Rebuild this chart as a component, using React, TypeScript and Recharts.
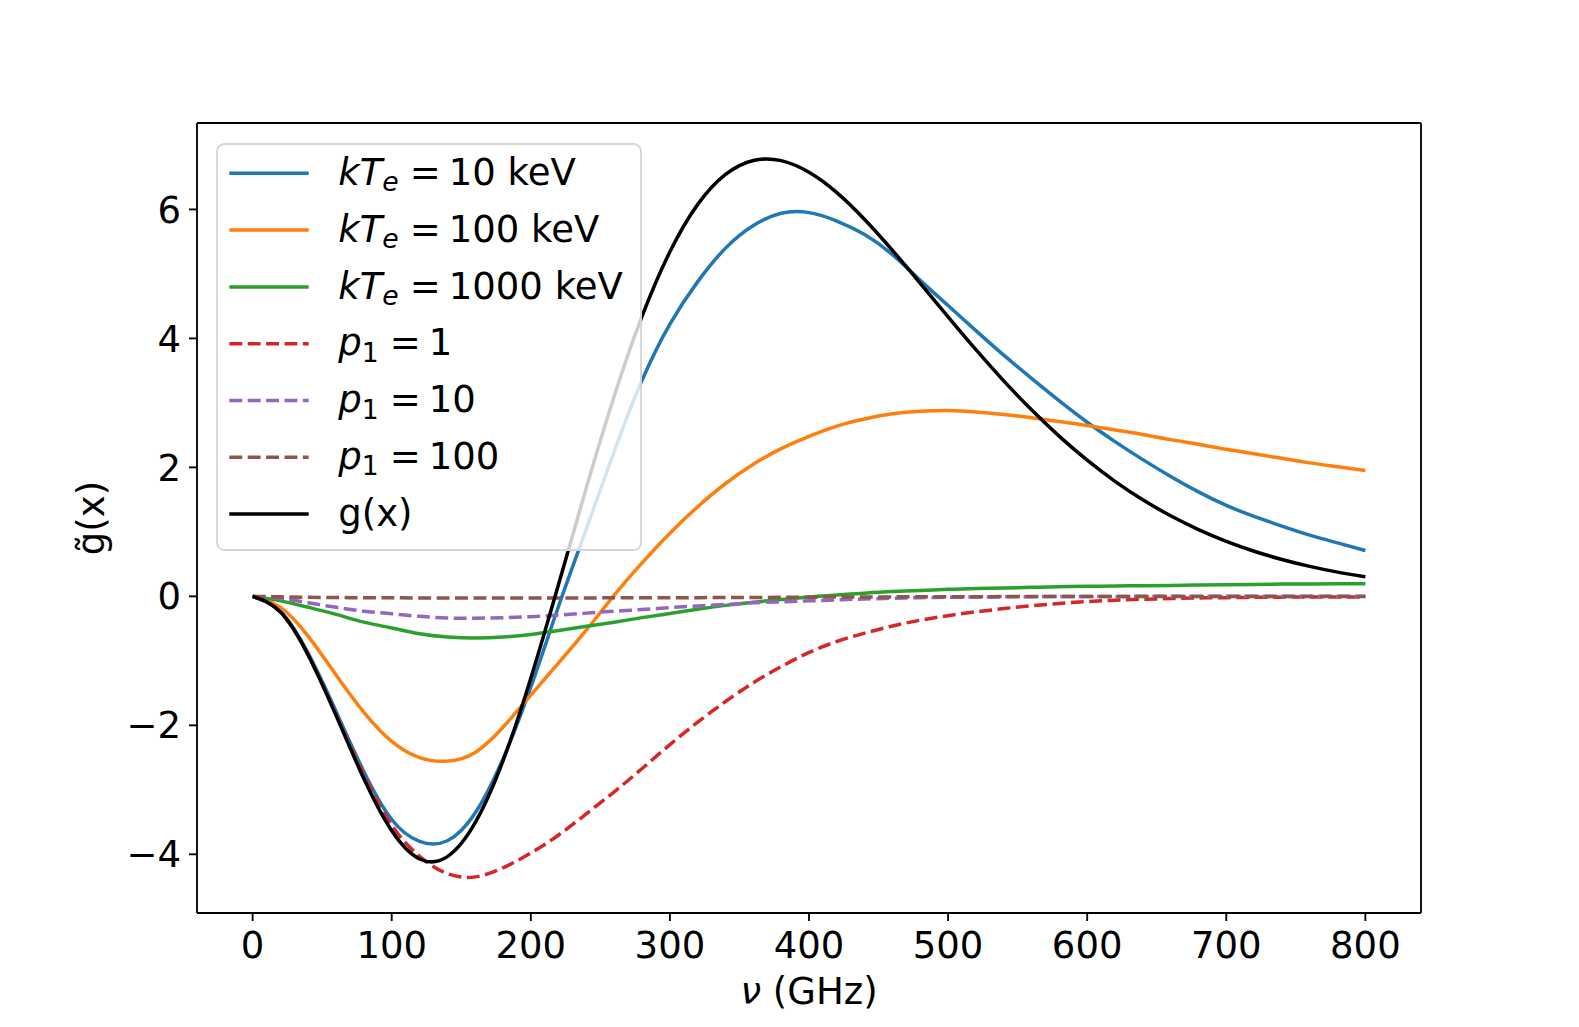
import React from 'react';
import { LineChart, Line, XAxis, YAxis, Legend, Label, ReferenceLine } from 'recharts';

// ---- data ----
const nu = [0, 20, 40, 60, 80, 100, 120, 140, 160, 180, 200, 220, 240, 260, 280, 300, 320, 340, 360, 380, 400,
  420, 440, 460, 480, 500, 520, 540, 560, 580, 600, 620, 640, 660, 680, 700, 720, 740, 760, 780, 800];

const kT10 = [0, -0.235, -0.885, -1.785, -2.72, -3.46, -3.8, -3.79, -3.36, -2.52, -1.41, -0.15, 1.05, 2.25, 3.35, 4.22,
  4.88, 5.4, 5.75, 5.94, 5.95, 5.82, 5.61, 5.3, 4.9, 4.51, 4.12, 3.74, 3.38, 3.03, 2.7, 2.4, 2.12, 1.86, 1.62,
  1.41, 1.24, 1.09, 0.95, 0.83, 0.71];

const kT100 = [0, -0.17, -0.62, -1.22, -1.8, -2.25, -2.5, -2.555, -2.42, -2.03, -1.53, -1.03, -0.52, 0.02, 0.52, 0.98,
  1.39, 1.75, 2.05, 2.29, 2.48, 2.64, 2.75, 2.83, 2.87, 2.88, 2.86, 2.82, 2.77, 2.71, 2.65, 2.58, 2.51, 2.43, 2.36,
  2.28, 2.21, 2.14, 2.07, 2.01, 1.95];

const kT1000 = [0, -0.07, -0.17, -0.28, -0.4, -0.49, -0.58, -0.63, -0.645, -0.63, -0.59, -0.53, -0.465, -0.4, -0.33,
  -0.265, -0.2, -0.14, -0.09, -0.05, -0.01, 0.02, 0.05, 0.075, 0.09, 0.11, 0.12, 0.13, 0.14, 0.15, 0.155, 0.16,
  0.165, 0.17, 0.175, 0.18, 0.185, 0.19, 0.192, 0.195, 0.197];

const p1_1 = [0, -0.245, -0.915, -1.83, -2.77, -3.55, -4.03, -4.3, -4.35, -4.21, -3.98, -3.7, -3.37, -3.03, -2.67,
  -2.3, -1.95, -1.63, -1.34, -1.09, -0.87, -0.7, -0.57, -0.46, -0.37, -0.3, -0.24, -0.19, -0.145, -0.11, -0.08,
  -0.06, -0.045, -0.035, -0.025, -0.02, -0.015, -0.012, -0.01, -0.01, -0.01];

const p1_10 = [0, -0.03, -0.1, -0.17, -0.23, -0.27, -0.31, -0.335, -0.34, -0.33, -0.315, -0.29, -0.26, -0.23, -0.205,
  -0.175, -0.15, -0.125, -0.1, -0.085, -0.07, -0.055, -0.04, -0.03, -0.02, -0.015, -0.01, -0.008, -0.005, -0.003,
  -0.002, -0.001, 0, 0, 0, 0, 0, 0, 0, 0, 0];

const p1_100 = [0, -0.008, -0.014, -0.018, -0.021, -0.023, -0.024, -0.025, -0.025, -0.025, -0.025, -0.024, -0.024,
  -0.023, -0.022, -0.021, -0.02, -0.018, -0.017, -0.015, -0.013, -0.011, -0.01, -0.008, -0.007, -0.006, -0.005,
  -0.004, -0.003, -0.003, -0.002, -0.002, -0.002, -0.001, -0.001, -0.001, -0.001, -0.001, -0.001, -0.001, -0.001];

const gx = [0, -0.243, -0.914, -1.85, -2.83, -3.635, -4.072, -4.036, -3.51, -2.551, -1.271, 0.19, 1.69, 3.107, 4.344,
  5.343, 6.078, 6.543, 6.759, 6.756, 6.575, 6.26, 5.844, 5.365, 4.855, 4.334, 3.825, 3.342, 2.892, 2.481, 2.112,
  1.784, 1.497, 1.249, 1.035, 0.853, 0.7, 0.572, 0.465, 0.376, 0.303];

const xTicks = [0, 100, 200, 300, 400, 500, 600, 700, 800];
const yTicks = [-4, -2, 0, 2, 4, 6];
const xDomain = [-40, 840];
const yDomain = [-4.91, 7.34];

const rows = nu.map((v, i) => ({
  nu: v,
  kT10: kT10[i],
  kT100: kT100[i],
  kT1000: kT1000[i],
  p1_1: p1_1[i],
  p1_10: p1_10[i],
  p1_100: p1_100[i],
  gx: gx[i],
}));

// ---- styling ----
const FONT = '"DejaVu Sans", sans-serif';
const FS = 37;
const LW = 3.5;
const DASH = '12.9 5.5';
const SUB = FS * 0.72;

const series = [
  { key: 'kT10', color: '#1f77b4', dash: undefined },
  { key: 'kT100', color: '#ff7f0e', dash: undefined },
  { key: 'kT1000', color: '#2ca02c', dash: undefined },
  { key: 'p1_1', color: '#d62728', dash: DASH },
  { key: 'p1_10', color: '#9467bd', dash: DASH },
  { key: 'p1_100', color: '#8c564b', dash: DASH },
  { key: 'gx', color: '#000000', dash: undefined },
];

const kTLabel = (n: string) => (
  <>
    <tspan fontStyle="italic">kT</tspan>
    <tspan fontStyle="italic" fontSize={SUB} dy={6.5}>e</tspan>
    <tspan dy={-6.5} dx={11}>=</tspan>
    <tspan dx={8}>{n + ' keV'}</tspan>
  </>
);
const pLabel = (n: string) => (
  <>
    <tspan fontStyle="italic">p</tspan>
    <tspan fontSize={SUB} dy={6.5}>1</tspan>
    <tspan dy={-6.5} dx={11}>=</tspan>
    <tspan dx={8}>{n}</tspan>
  </>
);

const labels: Record<string, React.ReactNode> = {
  kT10: kTLabel('10'),
  kT100: kTLabel('100'),
  kT1000: kTLabel('1000'),
  p1_1: pLabel('1'),
  p1_10: pLabel('10'),
  p1_100: pLabel('100'),
  gx: <tspan>g(x)</tspan>,
};

const LegendBox = () => (
  <svg width={426} height={408} style={{ display: 'block' }}>
    <rect x={1} y={1} width={424} height={406} rx={7.5} ry={7.5}
      fill="rgba(255,255,255,0.8)" stroke="#d6d6d6" strokeWidth={1.9} />
    {series.map((s, i) => {
      const cy = 30.3 + 56.8 * i;
      return (
        <g key={s.key}>
          <line x1={13.3} x2={92.7} y1={cy} y2={cy} stroke={s.color} strokeWidth={LW}
            strokeDasharray={s.dash} />
          <text x={122.3} y={cy + 11.6} fontFamily={FONT} fontSize={FS} fill="#000">
            {labels[s.key]}
          </text>
        </g>
      );
    })}
  </svg>
);

const XLabel = (props: any) => {
  const vb = props.viewBox || { x: 197, y: 913, width: 1224, height: 60 };
  const cx = vb.x + vb.width / 2;
  return (
    <text x={cx} y={vb.y + 91} textAnchor="middle" fontFamily={FONT} fontSize={FS} fill="#000">
      <tspan fontStyle="italic">ν</tspan> (GHz)
    </text>
  );
};

const YLabel = (props: any) => {
  const vb = props.viewBox || { x: 77, y: 123, width: 120, height: 790 };
  const x = vb.x + 27;
  const cy = vb.y + vb.height / 2;
  return (
    <text x={x} y={cy} transform={`rotate(-90, ${x}, ${cy})`} textAnchor="middle"
      fontFamily={FONT} fontSize={FS} fill="#000">
      g̃(x)
    </text>
  );
};

const fmtY = (v: number) => (v < 0 ? '\u2212' + Math.abs(v) : String(v));

const axisStroke = { stroke: '#000', strokeWidth: 1.85 };
const tickStyle = { fill: '#000', fontSize: FS, fontFamily: FONT };

export default function App() {
  return (
    <div style={{ position: 'absolute', left: 0, top: 0, width: 1579, height: 1027, background: '#fff' }}>
      <LineChart width={1579} height={1027} data={rows}
        margin={{ top: 123, right: 158, bottom: 54, left: 77 }}>
        <XAxis dataKey="nu" type="number" domain={xDomain} ticks={xTicks} interval={0}
          tickSize={8} tickMargin={11} height={60} stroke="#000"
          axisLine={axisStroke} tickLine={axisStroke} tick={tickStyle} allowDataOverflow>
          <Label content={XLabel} />
        </XAxis>
        <YAxis type="number" domain={yDomain} ticks={yTicks} interval={0} tickSize={8} tickMargin={8}
          width={120} stroke="#000" axisLine={axisStroke} tickLine={axisStroke} tick={tickStyle}
          tickFormatter={fmtY} allowDataOverflow>
          <Label content={YLabel} />
        </YAxis>
        <ReferenceLine y={yDomain[1]} stroke="#000" strokeWidth={1.85} ifOverflow="visible" />
        <ReferenceLine x={xDomain[1]} stroke="#000" strokeWidth={1.85} ifOverflow="visible" />
        {series.map((s) => (
          <Line key={s.key} dataKey={s.key} type="natural" stroke={s.color} strokeWidth={LW}
            strokeDasharray={s.dash} dot={false} activeDot={false} isAnimationActive={false} />
        ))}
        <Legend layout="vertical" align="center" verticalAlign="middle" content={LegendBox}
          wrapperStyle={{ left: 216, top: 143, width: 426, height: 408 }} />
      </LineChart>
    </div>
  );
}
